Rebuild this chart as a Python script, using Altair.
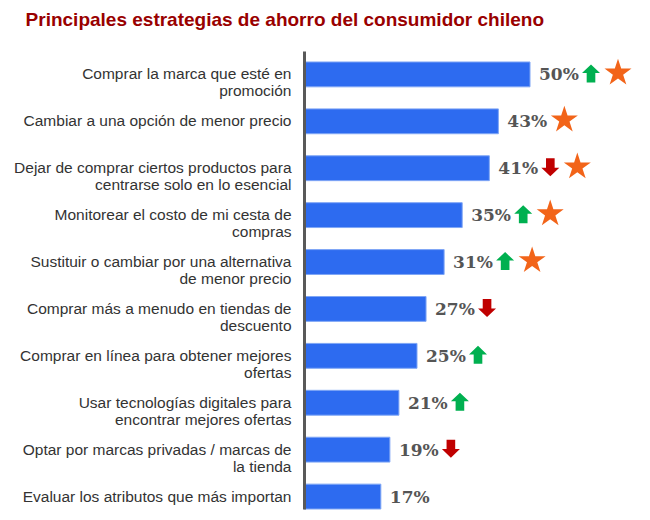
import altair as alt
import pandas as pd

categories = [
    "Comprar la marca que esté en|promoción",
    "Cambiar a una opción de menor precio",
    "Dejar de comprar ciertos productos para|centrarse solo en lo esencial",
    "Monitorear el costo de mi cesta de|compras",
    "Sustituir o cambiar por una alternativa|de menor precio",
    "Comprar más a menudo en tiendas de|descuento",
    "Comprar en línea para obtener mejores\u00a0|ofertas\u00a0",
    "Usar tecnologías digitales para|encontrar mejores ofertas",
    "Optar por marcas privadas / marcas de|la tienda",
    "Evaluar los atributos que más importan",
]
values = [50, 43, 41, 35, 31, 27, 25, 21, 19, 17]
trend = ["up", "none", "down", "up", "up", "down", "up", "up", "down", "none"]
star = [True, True, True, True, True, False, False, False, False, False]

df = pd.DataFrame({"cat": categories, "value": values, "trend": trend, "star": star})
df["label"] = df["value"].astype(str) + "%"
df["has_arrow"] = df["trend"] != "none"

UP = "M0,-1 L1,-0.05 L0.48,-0.05 L0.48,1 L-0.48,1 L-0.48,-0.05 L-1,-0.05 Z"
DOWN = "M0,1 L1,0.05 L0.48,0.05 L0.48,-1 L-0.48,-1 L-0.48,0.05 L-1,0.05 Z"
STAR = ("M0,-1.1 L0.225,-0.409 L0.951,-0.409 L0.363,0.018 L0.588,0.709 L0,0.282 "
        "L-0.588,0.709 L-0.363,0.018 L-0.951,-0.409 L-0.225,-0.409 Z")

W = 326
xscale = alt.Scale(domain=[0, W / 4.52], nice=False, zero=True)

base = alt.Chart(df).encode(
    y=alt.Y(
        "cat:N",
        sort=None,
        title=None,
        scale=alt.Scale(paddingInner=0.47, paddingOuter=0.117, align=1),
        axis=alt.Axis(
            labelExpr="split(datum.label, '|')",
            labelFont="Liberation Sans",
            labelFontSize=15.5,
            labelColor="#333333",
            labelLineHeight=17,
            labelPadding=13,
            labelLimit=400,
            ticks=False,
            domainColor="#595959",
            domainWidth=3,
            zindex=1,
        ),
    ),
    x=alt.X("value:Q", scale=xscale, axis=None),
)

bars = base.mark_bar(color="#2D6BF0", stroke="#7FA6F5", strokeWidth=1)

texts = base.mark_text(
    align="left", baseline="middle", dx=9, dy=1,
    font="Georgia, DejaVu Serif", fontWeight="bold", fontSize=17, color="#555555",
).encode(text="label:N")

up = base.transform_filter("datum.trend == 'up'").mark_point(
    shape=UP, size=324, filled=True, color="#00B050", opacity=1, xOffset=61, yOffset=-1
)
down = base.transform_filter("datum.trend == 'down'").mark_point(
    shape=DOWN, size=324, filled=True, color="#C00000", opacity=1, xOffset=61, yOffset=-1
)
star_a = base.transform_filter("datum.star && datum.has_arrow").mark_point(
    shape=STAR, size=806, filled=True, color="#F26419", opacity=1, xOffset=88
)
star_b = base.transform_filter("datum.star && !datum.has_arrow").mark_point(
    shape=STAR, size=806, filled=True, color="#F26419", opacity=1, xOffset=66
)

chart = alt.layer(bars, texts, up, down, star_a, star_b).properties(
    width=W,
    height=458,
    padding={"left": 5, "top": 3, "right": 5, "bottom": 0},
    title=alt.TitleParams(
        "Principales estrategias de ahorro del consumidor chileno",
        font="Liberation Sans",
        fontSize=19,
        fontWeight="bold",
        color="#990000",
        anchor="start",
        frame="bounds",
        offset=21,
        dx=12,
    ),
).configure_view(stroke=None)

chart.save("out.html", embed_options={"renderer": "svg", "actions": False})
